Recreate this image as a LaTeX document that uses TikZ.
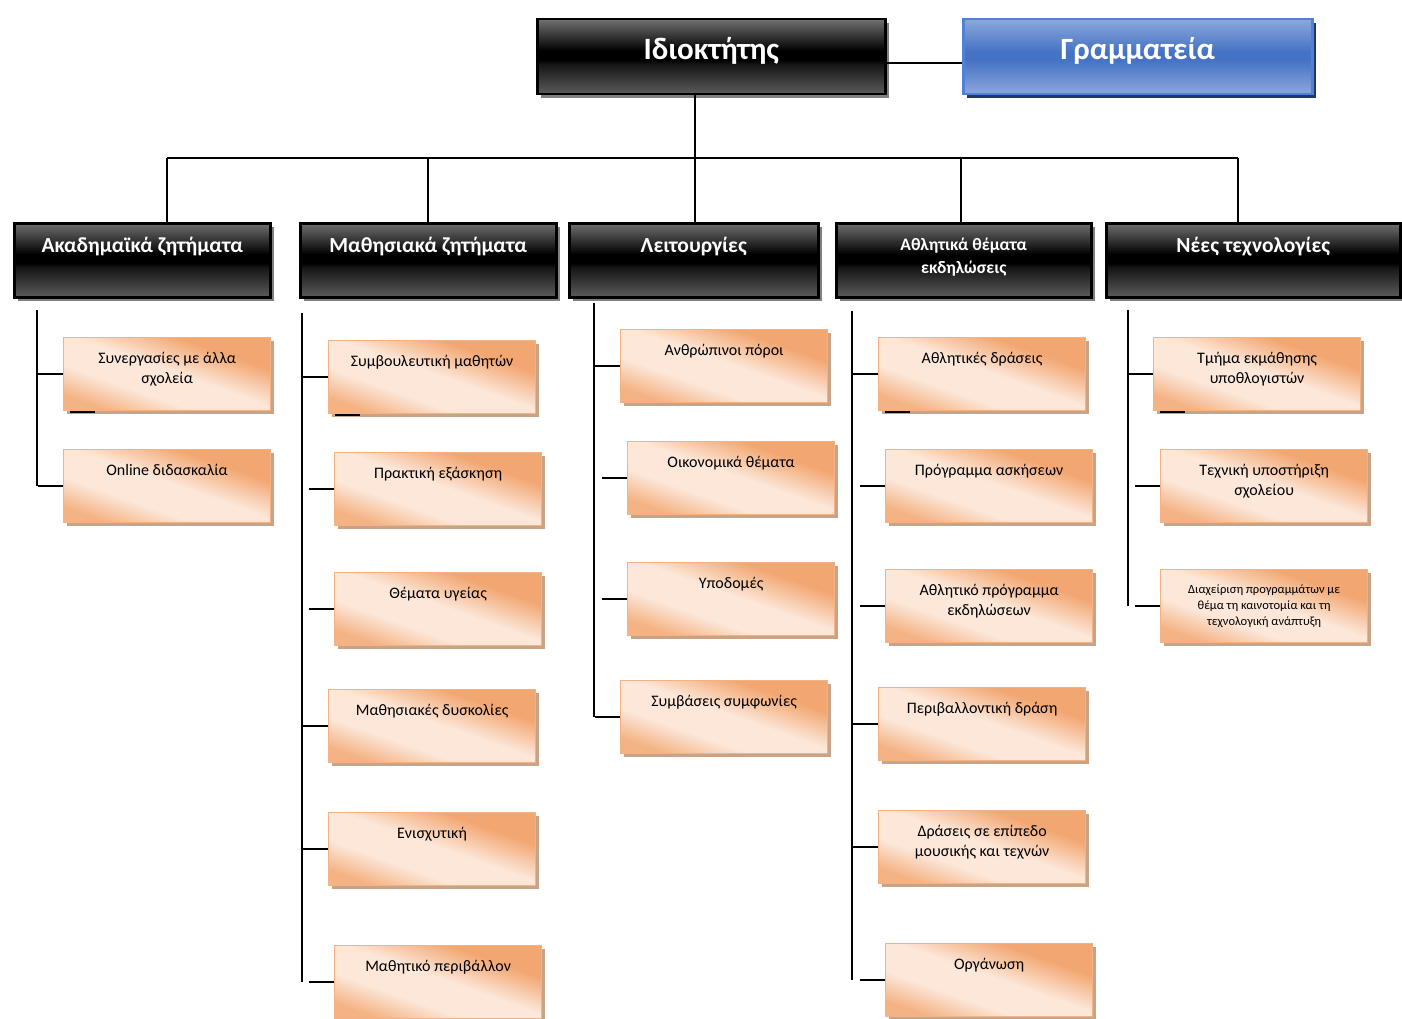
\documentclass[tikz,border=0pt]{standalone}
\usepackage{fontspec}
\setmainfont{Carlito}
\usetikzlibrary{shadows}
\definecolor{leafedge}{RGB}{244,177,131}
\definecolor{leafdark}{RGB}{242,166,113}
\definecolor{leafmid}{RGB}{244,179,132}
\definecolor{leaflight}{RGB}{252,231,217}
\definecolor{leafshadow}{RGB}{200,163,133}
\definecolor{hdgray}{RGB}{112,112,112}
\definecolor{hddark}{RGB}{22,22,22}
\definecolor{hdlow}{RGB}{92,92,92}
\definecolor{hdshadow}{RGB}{128,128,128}
\definecolor{secedge}{RGB}{79,129,214}
\definecolor{sectop}{RGB}{140,167,220}
\definecolor{secmid}{RGB}{68,114,196}
\definecolor{secshadow}{RGB}{32,56,100}
\pgfdeclareverticalshading{leafshade}{100bp}{color(0bp)=(leafmid); color(25bp)=(leafmid);
  color(38bp)=(leaflight); color(52bp)=(leaflight); color(68bp)=(leafdark); color(100bp)=(leafdark)}
\pgfdeclareverticalshading{hdshade}{100bp}{color(0bp)=(hdlow); color(25bp)=(hdlow);
  color(45bp)=(hddark); color(48bp)=(black); color(54bp)=(black); color(75bp)=(hdgray); color(100bp)=(hdgray)}
\pgfdeclareverticalshading{secshade}{100bp}{color(0bp)=(sectop); color(25bp)=(sectop);
  color(48bp)=(secmid); color(53bp)=(secmid); color(75bp)=(sectop); color(100bp)=(sectop)}
\tikzset{
  header/.style={draw=black, line width=2.5pt, shade, shading=hdshade, inner sep=0pt,
    anchor=north west, minimum height=74pt,
    drop shadow={shadow xshift=4pt, shadow yshift=-4pt, fill=hdshadow, opacity=1}},
  secbox/.style={draw=secedge, line width=2.5pt, shade, shading=secshade, inner sep=0pt,
    anchor=north west, minimum height=75pt,
    drop shadow={shadow xshift=4pt, shadow yshift=-4pt, fill=secshadow, opacity=1}},
  top text/.style={anchor=north, inner sep=0pt, yshift=-19pt, text=white,
    font=\bfseries\fontsize{31}{35}\selectfont},
  header text/.style={anchor=north, inner sep=0pt, yshift=-15pt, text=white, align=center,
    font=\bfseries\fontsize{21.5}{24}\selectfont},
  leaf/.style={draw=leafedge, line width=1.2pt, shade, shading=leafshade, shading angle=-19.4,
    inner sep=0pt, anchor=north west, minimum width=207pt, minimum height=73pt,
    drop shadow={shadow xshift=3pt, shadow yshift=-3pt, fill=leafshadow, opacity=1}},
  leaf text/.style={anchor=north, inner sep=0pt, yshift=-15pt, align=center,
    font=\fontsize{16}{20.5}\selectfont},
  tree/.style={line width=1.8pt, black},
}
\begin{document}
\begin{tikzpicture}[x=1pt, y=-1pt]
  \useasboundingbox (0,0) rectangle (1402,1019);

  % Top level
  \node[header, minimum width=348pt, minimum height=75pt,
    label={[top text]north:Ιδιοκτήτης}] (owner) at (536,18) {};
  \node[secbox, minimum width=349pt,
    label={[top text]north:Γραμματεία}] (sec) at (962,18) {};

  % Departments
  \node[header, minimum width=256pt, label={[header text]north:Ακαδημαϊκά ζητήματα}] (acad) at (13,222) {};
  \node[header, minimum width=256pt, label={[header text]north:Μαθησιακά ζητήματα}] (learn) at (299,222) {};
  \node[header, minimum width=249pt, label={[header text]north:Λειτουργίες}] (ops) at (568,222) {};
  \node[header, minimum width=255pt, label={[header text, yshift=-1pt,
    font=\bfseries\fontsize{17.5}{23}\selectfont]north:{Αθλητικά θέματα\\εκδηλώσεις}}] (sport) at (835,222) {};
  \node[header, minimum width=294pt, label={[header text]north:Νέες τεχνολογίες}] (newt) at (1105,222) {};

  % Academic
  \node[leaf, label={[leaf text]north:{Συνεργασίες με άλλα\\σχολεία}}] (l11) at (63,337) {};
  \node[leaf, label={[leaf text]north:Online διδασκαλία}] (l12) at (63,449) {};

  % Learning
  \node[leaf, label={[leaf text]north:Συμβουλευτική μαθητών}] (l21) at (328,340) {};
  \node[leaf, label={[leaf text]north:Πρακτική εξάσκηση}] (l22) at (334,452) {};
  \node[leaf, label={[leaf text]north:Θέματα υγείας}] (l23) at (334,572) {};
  \node[leaf, label={[leaf text]north:Μαθησιακές δυσκολίες}] (l24) at (328,689) {};
  \node[leaf, label={[leaf text]north:Ενισχυτική}] (l25) at (328,812) {};
  \node[leaf, label={[leaf text]north:Μαθητικό περιβάλλον}] (l26) at (334,945) {};

  % Operations
  \node[leaf, label={[leaf text]north:Ανθρώπινοι πόροι}] (l31) at (620,329) {};
  \node[leaf, label={[leaf text]north:Οικονομικά θέματα}] (l32) at (627,441) {};
  \node[leaf, label={[leaf text]north:Υποδομές}] (l33) at (627,562) {};
  \node[leaf, label={[leaf text]north:Συμβάσεις συμφωνίες}] (l34) at (620,680) {};

  % Sports and events
  \node[leaf, label={[leaf text]north:Αθλητικές δράσεις}] (l41) at (878,337) {};
  \node[leaf, label={[leaf text]north:Πρόγραμμα ασκήσεων}] (l42) at (885,449) {};
  \node[leaf, label={[leaf text]north:{Αθλητικό πρόγραμμα\\εκδηλώσεων}}] (l43) at (885,569) {};
  \node[leaf, label={[leaf text]north:Περιβαλλοντική δράση}] (l44) at (878,687) {};
  \node[leaf, label={[leaf text]north:{Δράσεις σε επίπεδο\\μουσικής και τεχνών}}] (l45) at (878,810) {};
  \node[leaf, label={[leaf text]north:Οργάνωση}] (l46) at (885,943) {};

  % New technologies
  \node[leaf, label={[leaf text]north:{Τμήμα εκμάθησης\\υποθλογιστών}}] (l51) at (1153,337) {};
  \node[leaf, label={[leaf text]north:{Τεχνική υποστήριξη\\σχολείου}}] (l52) at (1160,449) {};
  \node[leaf, label={[leaf text, yshift=-0.5pt, font=\fontsize{12.5}{16}\selectfont]north:{Διαχείριση προγραμμάτων με\\θέμα τη καινοτομία και τη\\τεχνολογική ανάπτυξη}}] (l53) at (1160,569) {};

  % Owner -- secretariat
  \draw[tree] ([yshift=-6pt]owner.east) -- ([yshift=-6pt]sec.west);

  % Trunk and bus
  \coordinate (d1) at (167,158);
  \coordinate (d2) at (428,158);
  \coordinate (d3) at (695,158);
  \coordinate (d4) at (961,158);
  \coordinate (d5) at (1238,158);
  \draw[tree] (owner.south -| d3) -- (d3);
  \draw[tree] (d1) -- (d5);
  \foreach \d/\h in {d1/acad, d2/learn, d3/ops, d4/sport, d5/newt}
    \draw[tree] (\d) -- (\d |- \h.north);

  % Column stems
  \coordinate (s1) at (37,310);
  \coordinate (s2) at (302,313);
  \coordinate (s3) at (594,303);
  \coordinate (s4) at (852,311);
  \coordinate (s5) at (1128,310);
  \draw[tree] (s1) -- (s1 |- l12.west);
  \draw[tree] (s2) -- (s2 |- l26.west);
  \draw[tree] (s3) -- (s3 |- l34.west);
  \draw[tree] (s4) -- (s4 |- l46.west);
  \draw[tree] (s5) -- (s5 |- l53.west);

  % Branches
  \foreach \n in {l11,l12,l21,l22,l23,l24,l25,l26,l31,l32,l33,l34,l41,l42,l43,l44,l45,l46,l51,l52,l53}
    \draw[tree] (\n.west) -- ++(-25,0);
  \foreach \n in {l11,l21,l41,l51}
    \draw[tree] ([xshift=7pt, yshift=-1pt]\n.south west) -- ++(25,0);

\end{tikzpicture}
\end{document}
